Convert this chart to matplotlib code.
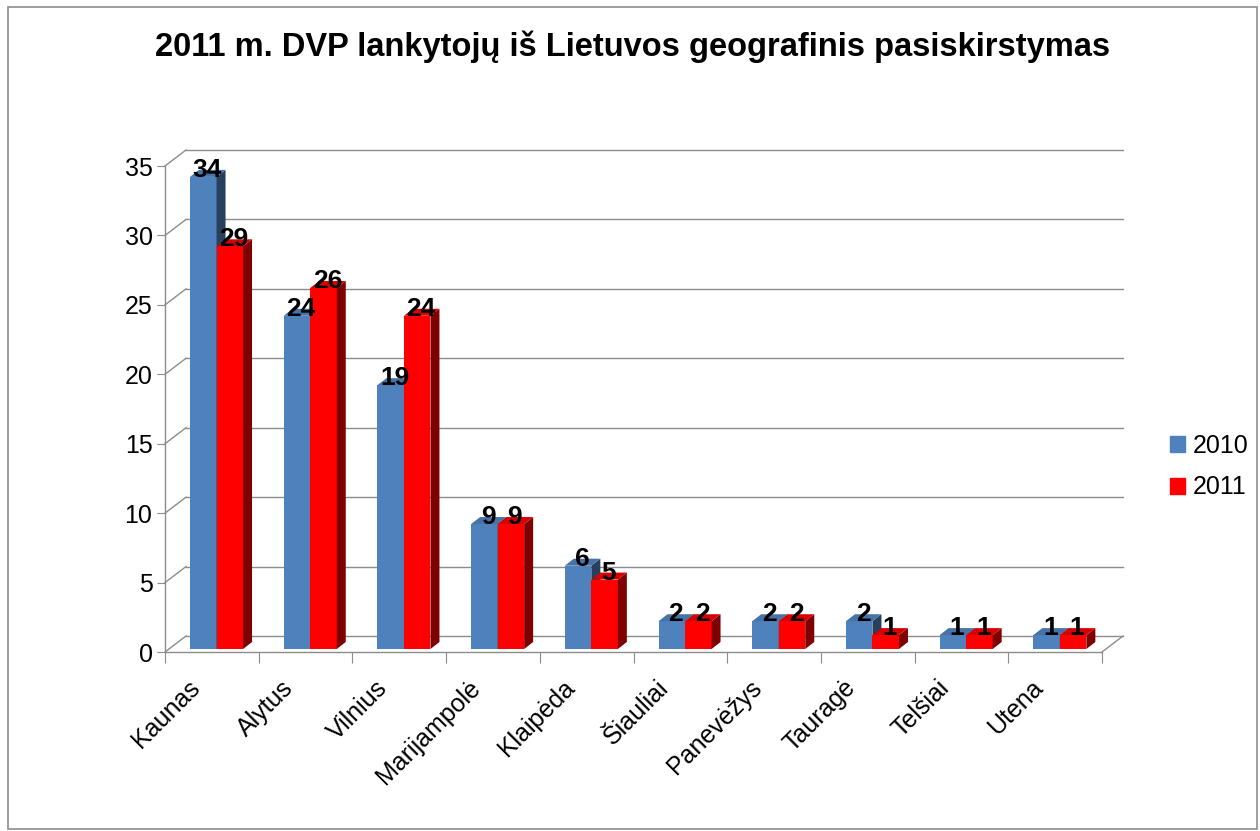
import matplotlib
matplotlib.use("Agg")
import matplotlib.pyplot as plt
from matplotlib.patches import Patch, Polygon, Rectangle
from matplotlib.lines import Line2D
from matplotlib.transforms import offset_copy, IdentityTransform

plt.rcParams['font.family'] = ['Liberation Sans', 'DejaVu Sans']

title = "2011 m. DVP lankytojų iš Lietuvos geografinis pasiskirstymas"
cities = ["Kaunas", "Alytus", "Vilnius", "Marijampolė", "Klaipėda",
          "Šiauliai", "Panevėžys", "Tauragė", "Telšiai", "Utena"]
v2010 = [34, 24, 19, 9, 6, 2, 2, 2, 1, 1]
v2011 = [29, 26, 24, 9, 5, 2, 2, 1, 1, 1]
yticks = [0, 5, 10, 15, 20, 25, 30, 35]

W, H = 1260, 831
fig = plt.figure(figsize=(W / 100, H / 100), dpi=100)
ax = fig.add_axes([165 / W, (H - 652) / H, (1102 - 165) / W, (652 - 166) / H])
ax.set_xlim(0, len(cities))
ax.set_ylim(0, 35)
ax.patch.set_visible(False)

grey = "#8c8c8c"
for s in ["top", "right"]:
    ax.spines[s].set_visible(False)
for s in ["left", "bottom"]:
    ax.spines[s].set_color(grey)
    ax.spines[s].set_linewidth(1)

ax.set_yticks(yticks)
ax.set_yticklabels([str(t) for t in yticks], fontsize=18)
ax.tick_params(axis="y", length=6, color=grey, pad=3)
ax.set_xticks(range(len(cities) + 1))
ax.set_xticklabels([])
ax.tick_params(axis="x", length=8, color=grey)

# back wall and floor (pseudo 3D)
DX, DY = 21, 16
back = offset_copy(ax.transData, fig=fig, x=DX, y=DY, units="dots")
for t in yticks:
    ax.plot([0, len(cities)], [t, t], color=grey, lw=1, transform=back, zorder=0, clip_on=False)
    p = ax.transData.transform((0, t))
    fig.add_artist(Line2D([p[0], p[0] + DX], [p[1], p[1] + DY], color=grey, lw=1,
                          transform=IdentityTransform()))
p = ax.transData.transform((len(cities), 0))
fig.add_artist(Line2D([p[0], p[0] + DX], [p[1], p[1] + DY], color=grey, lw=1,
                      transform=IdentityTransform()))

# bars with depth
bw = 0.283
x_blue = [i + 0.267 + bw / 2 for i in range(len(cities))]
x_red = [i + 0.267 + bw * 1.5 for i in range(len(cities))]
bar_tr = offset_copy(ax.transData, fig=fig, x=0, y=3, units="dots")
dx, dy = 9, 7


def draw_series(xs, vals, front, top, side):
    bars = ax.bar(xs, vals, width=bw, color=front, zorder=3)
    for b, x, v in zip(bars, xs, vals):
        b.set_transform(bar_tr)
        x0, x1 = x - bw / 2, x + bw / 2
        a = bar_tr.transform((x0, v))
        c = bar_tr.transform((x1, v))
        d = bar_tr.transform((x1, 0))
        ax.add_patch(Polygon([c, d, (d[0] + dx, d[1] + dy), (c[0] + dx, c[1] + dy)],
                             closed=True, facecolor=side, edgecolor="none",
                             transform=IdentityTransform(), zorder=3))
        ax.add_patch(Polygon([a, c, (c[0] + dx, c[1] + dy), (a[0] + dx, a[1] + dy)],
                             closed=True, facecolor=top, edgecolor="none",
                             transform=IdentityTransform(), zorder=3))
    return bars


draw_series(x_blue, v2010, "#4f81bd", "#4673a8", "#27405e")
draw_series(x_red, v2011, "#ff0000", "#d80000", "#7f0000")

lab_tr = offset_copy(ax.transData, fig=fig, x=4, y=3, units="dots")
for xs, vals in [(x_blue, v2010), (x_red, v2011)]:
    for x, v in zip(xs, vals):
        ax.text(x, v, str(v), transform=lab_tr, ha="center", va="baseline",
                fontsize=19, fontweight="bold", zorder=5)

# category labels
cat_tr = offset_copy(ax.transData, fig=fig, x=-16, y=-32, units="dots")
for i, name in enumerate(cities):
    ax.text(i + 0.5, 0, name, transform=cat_tr, rotation=45, ha="right", va="center",
            rotation_mode="anchor", fontsize=18)

fig.text(633 / W, 1 - 47 / H, title, ha="center", va="center",
         fontsize=23.5, fontweight="bold")

handles = [Patch(color="#4f81bd", label="2010"), Patch(color="#ff0000", label="2011")]
fig.legend(handles=handles, loc="upper left", bbox_to_anchor=(1170 / W, 1 - 434 / H),
           frameon=False, fontsize=18, handlelength=0.6, handleheight=0.6,
           handletextpad=0.32, labelspacing=0.7, borderpad=0, borderaxespad=0)

fig.add_artist(Rectangle((8 / W, 2 / H), 1249 / W, 822 / H, fill=False,
                         edgecolor=grey, lw=1.2, transform=fig.transFigure))

fig.savefig("out.png", dpi=100)
